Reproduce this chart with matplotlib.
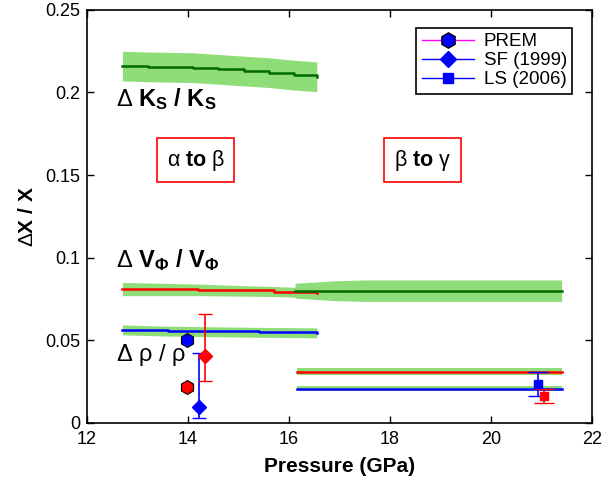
import matplotlib
matplotlib.use('Agg')
import matplotlib.pyplot as plt
import numpy as np

plt.rcParams['font.family'] = ['Liberation Sans', 'DejaVu Sans']
plt.rcParams['mathtext.fontset'] = 'custom'
plt.rcParams['mathtext.rm'] = 'Liberation Sans'
plt.rcParams['mathtext.it'] = 'Liberation Sans'
plt.rcParams['mathtext.bf'] = 'Liberation Sans:bold'

# bulk modulus contrast, alpha to beta
ks_p = [12.7, 13.2, 14.1, 14.6, 15.1, 15.6, 16.1, 16.55]
ks_val = [0.2160, 0.2155, 0.2150, 0.2140, 0.2130, 0.2120, 0.2105, 0.2095]
ks_err = [0.0090, 0.0090, 0.0090, 0.0090, 0.0090, 0.0090, 0.0090, 0.0090]

# bulk sound velocity contrast
vphi_ab_p = [12.7, 14.2, 15.7, 16.2, 16.55]
vphi_ab_val = [0.0810, 0.0805, 0.0795, 0.0790, 0.0785]
vphi_ab_err = [0.0040, 0.0035, 0.0030, 0.0030, 0.0030]
vphi_bg_p = [16.12, 16.9, 17.5, 21.4]
vphi_bg_val = [0.0800, 0.0800, 0.0800, 0.0800]
vphi_bg_err = [0.0045, 0.0060, 0.0065, 0.0065]

# density contrast
rho_ab_p = [12.7, 13.6, 15.4, 16.55]
rho_ab_val = [0.0563, 0.0555, 0.0548, 0.0545]
rho_ab_err = [0.0030, 0.0030, 0.0030, 0.0030]
rho_bg_p = [16.15, 21.4]
rho_bg_val = [0.0206, 0.0206]
rho_bg_err = [0.0015, 0.0015]

# second contrast curve, beta to gamma (red)
red_bg_p = [16.15, 21.4]
red_bg_val = [0.0310, 0.0310]
red_bg_err = [0.0022, 0.0022]

# seismic observations
prem_p = [13.98, 13.98]
prem_val = [0.0500, 0.0218]
sf_p = [14.22, 14.34]
sf_val = [0.0097, 0.0405]
sf_lo = [0.0067, 0.0151]
sf_hi = [0.0323, 0.0255]
ls_p = [20.93, 21.05]
ls_val = [0.0236, 0.0163]
ls_err = [0.0072, 0.0040]

band = '#8fdd78'
dkgreen = '#006a00'

fig = plt.figure(figsize=(6.09, 4.94), dpi=100)
ax = fig.add_axes([0.143, 0.144, 0.829, 0.836])


def draw_band(p, val, err, color):
    p = np.array(p)
    val = np.array(val)
    err = np.array(err)
    ax.fill_between(p, val - err, val + err, color=band, lw=0)
    ax.plot(p, val, color=color, lw=1.8, drawstyle='steps-post')


draw_band(ks_p, ks_val, ks_err, dkgreen)
draw_band(vphi_ab_p, vphi_ab_val, vphi_ab_err, 'red')
draw_band(vphi_bg_p, vphi_bg_val, vphi_bg_err, dkgreen)
draw_band(rho_ab_p, rho_ab_val, rho_ab_err, 'blue')
draw_band(red_bg_p, red_bg_val, red_bg_err, 'red')
draw_band(rho_bg_p, rho_bg_val, rho_bg_err, 'blue')

# PREM
ax.plot(prem_p[0], prem_val[0], 'h', color='blue', mec='k', mew=0.8, ms=10)
ax.plot(prem_p[1], prem_val[1], 'h', color='red', mec='k', mew=0.8, ms=10)

# SF (1999)
ax.errorbar(sf_p[0], sf_val[0], yerr=[[sf_lo[0]], [sf_hi[0]]], fmt='D', color='blue',
            ms=7, capsize=5, lw=1.2)
ax.errorbar(sf_p[1], sf_val[1], yerr=[[sf_lo[1]], [sf_hi[1]]], fmt='D', color='red',
            ms=7, capsize=5, lw=1.2)

# LS (2006)
ax.errorbar(ls_p[0], ls_val[0], yerr=ls_err[0], fmt='s', color='blue', ms=6, capsize=7, lw=1.2)
ax.errorbar(ls_p[1], ls_val[1], yerr=ls_err[1], fmt='s', color='red', ms=6, capsize=7, lw=1.2)

# legend proxies
h1, = ax.plot([], [], '-h', color='magenta', mfc='blue', mec='k', ms=11, lw=1)
h2, = ax.plot([], [], '-D', color='blue', ms=8, lw=1)
h3, = ax.plot([], [], '-s', color='blue', ms=7, lw=1)
leg = ax.legend([h1, h2, h3], ['PREM', 'SF (1999)', 'LS (2006)'], loc='upper right',
                fontsize=13.5, handlelength=2.8, borderpad=0.3, labelspacing=0.1,
                handletextpad=0.5, fancybox=False, framealpha=1, edgecolor='k',
                bbox_to_anchor=(0.98, 0.98))
leg.get_frame().set_linewidth(1.2)

ax.text(12.58, 0.192, r'$\Delta\ \mathbf{K_S\ /\ K_S}$', fontsize=17)
ax.text(12.58, 0.0945, r'$\Delta\ \mathbf{V_\Phi\ /\ V_\Phi}$', fontsize=17)
ax.text(12.58, 0.0375, r'$\Delta\ \rho\ /\ \rho$', fontsize=17)

box = dict(boxstyle='square,pad=0.45', fc='white', ec='red', lw=1.2)
ax.text(14.15, 0.159, r'$\alpha$ $\mathbf{to}$ $\beta$', fontsize=15.5, ha='center', va='center', bbox=box)
ax.text(18.65, 0.159, r'$\beta$ $\mathbf{to}$ $\gamma$', fontsize=15.5, ha='center', va='center', bbox=box)

ax.set_xlim(12, 22)
ax.set_ylim(0, 0.25)
ax.set_xticks([12, 14, 16, 18, 20, 22])
ax.set_yticks([0, 0.05, 0.1, 0.15, 0.2, 0.25])
ax.set_yticklabels(['0', '0.05', '0.1', '0.15', '0.2', '0.25'])
ax.tick_params(direction='in', top=True, right=True, length=5, width=1, labelsize=13)
ax.tick_params(axis='x', pad=6)
ax.tick_params(axis='y', pad=5)
for s in ax.spines.values():
    s.set_linewidth(1.2)
ax.set_xlabel('Pressure (GPa)', fontsize=15, fontweight='bold', labelpad=6)
ax.set_ylabel(r'$\Delta\mathbf{X\ /\ X}$', fontsize=15, labelpad=6)

fig.savefig('out.png', dpi=100)
